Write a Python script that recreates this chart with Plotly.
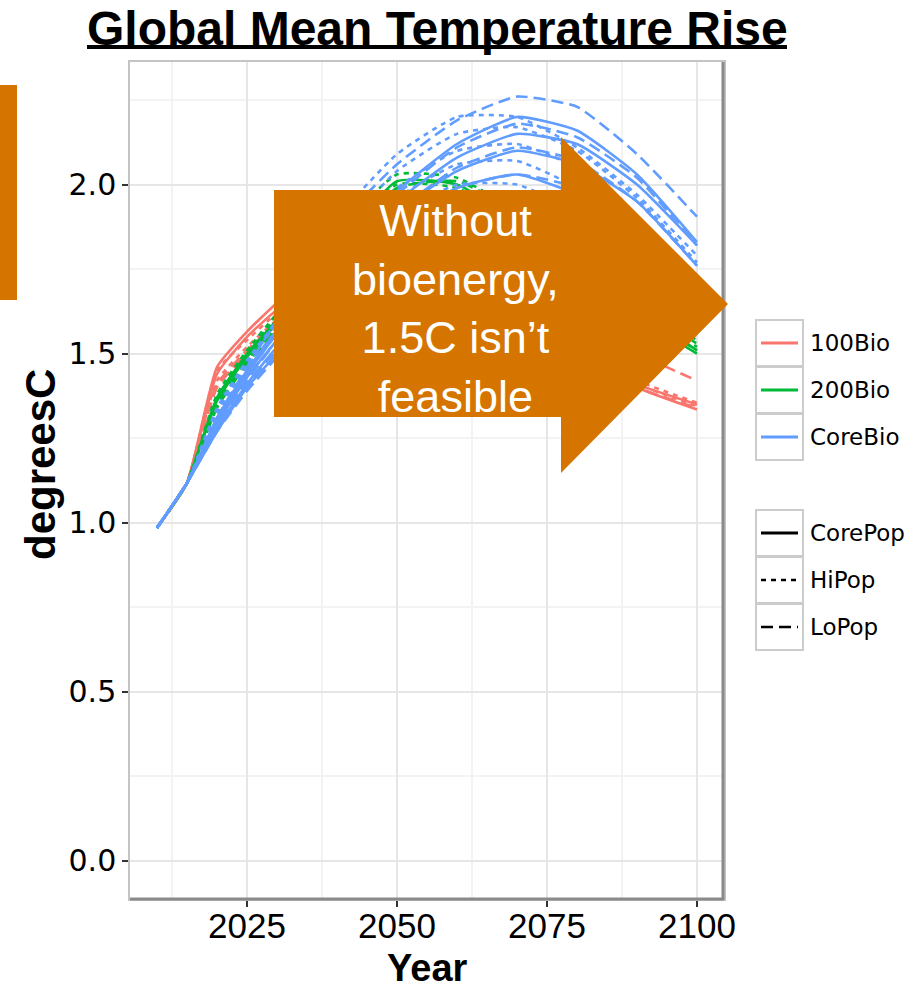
import plotly.graph_objects as go

# ---------------- data ----------------
years = [2010, 2015, 2020, 2025, 2030, 2035, 2040, 2050, 2060, 2070, 2080, 2090, 2100]

red_core_1 = [0.985, 1.118, 1.46, 1.565, 1.65, 1.71, 1.75, 1.77, 1.73, 1.62, 1.51, 1.41, 1.35]
red_core_2 = [0.985, 1.118, 1.44, 1.55, 1.63, 1.69, 1.73, 1.75, 1.71, 1.60, 1.50, 1.40, 1.335]
red_hi_1 = [0.985, 1.118, 1.45, 1.54, 1.62, 1.68, 1.72, 1.75, 1.72, 1.62, 1.51, 1.42, 1.355]
red_hi_2 = [0.985, 1.118, 1.42, 1.52, 1.60, 1.66, 1.70, 1.73, 1.70, 1.61, 1.50, 1.41, 1.345]
red_lo_1 = [0.985, 1.118, 1.41, 1.51, 1.59, 1.66, 1.71, 1.76, 1.74, 1.67, 1.58, 1.50, 1.42]
red_lo_2 = [0.985, 1.118, 1.40, 1.50, 1.58, 1.64, 1.69, 1.72, 1.69, 1.60, 1.50, 1.40, 1.34]

green_core_1 = [0.985, 1.118, 1.37, 1.50, 1.60, 1.71, 1.82, 2.01, 2.00, 1.89, 1.76, 1.63, 1.51]
green_core_2 = [0.985, 1.118, 1.36, 1.49, 1.59, 1.69, 1.79, 1.96, 1.96, 1.87, 1.74, 1.61, 1.50]
green_hi_1 = [0.985, 1.118, 1.38, 1.51, 1.62, 1.74, 1.86, 2.03, 2.02, 1.92, 1.78, 1.64, 1.53]
green_hi_2 = [0.985, 1.118, 1.37, 1.50, 1.61, 1.72, 1.83, 2.00, 1.99, 1.89, 1.76, 1.63, 1.52]
green_lo_1 = [0.985, 1.118, 1.35, 1.48, 1.58, 1.69, 1.80, 1.99, 2.01, 1.92, 1.79, 1.65, 1.54]
green_lo_2 = [0.985, 1.118, 1.34, 1.47, 1.57, 1.67, 1.77, 1.95, 1.97, 1.88, 1.75, 1.62, 1.51]

blue_core_1 = [0.985, 1.118, 1.31, 1.45, 1.57, 1.68, 1.79, 1.98, 2.12, 2.20, 2.16, 2.03, 1.83]
blue_core_2 = [0.985, 1.118, 1.30, 1.44, 1.56, 1.67, 1.77, 1.95, 2.08, 2.15, 2.12, 2.00, 1.82]
blue_core_3 = [0.985, 1.118, 1.29, 1.43, 1.54, 1.65, 1.75, 1.92, 2.04, 2.10, 2.06, 1.95, 1.76]
blue_core_4 = [0.985, 1.118, 1.28, 1.41, 1.52, 1.62, 1.72, 1.88, 1.99, 2.03, 1.97, 1.84, 1.66]
blue_core_5 = [0.985, 1.118, 1.27, 1.40, 1.50, 1.60, 1.69, 1.84, 1.94, 1.96, 1.90, 1.76, 1.58]
blue_hi_1 = [0.985, 1.118, 1.34, 1.48, 1.60, 1.75, 1.90, 2.09, 2.20, 2.20, 2.11, 1.97, 1.79]
blue_hi_2 = [0.985, 1.118, 1.33, 1.47, 1.59, 1.72, 1.85, 2.04, 2.15, 2.17, 2.10, 1.96, 1.77]
blue_hi_3 = [0.985, 1.118, 1.32, 1.46, 1.57, 1.69, 1.80, 1.99, 2.10, 2.12, 2.05, 1.90, 1.70]
blue_hi_4 = [0.985, 1.118, 1.31, 1.45, 1.56, 1.67, 1.78, 1.96, 2.06, 2.07, 1.99, 1.84, 1.64]
blue_hi_5 = [0.985, 1.118, 1.30, 1.43, 1.54, 1.64, 1.74, 1.91, 2.00, 2.00, 1.92, 1.77, 1.58]
blue_lo_1 = [0.985, 1.118, 1.31, 1.46, 1.60, 1.74, 1.88, 2.06, 2.19, 2.26, 2.23, 2.09, 1.905]
blue_lo_2 = [0.985, 1.118, 1.30, 1.44, 1.56, 1.67, 1.78, 1.97, 2.11, 2.18, 2.14, 2.02, 1.82]
blue_lo_3 = [0.985, 1.118, 1.29, 1.42, 1.54, 1.64, 1.74, 1.92, 2.05, 2.11, 2.07, 1.95, 1.76]
blue_lo_4 = [0.985, 1.118, 1.28, 1.41, 1.51, 1.61, 1.71, 1.87, 1.99, 2.03, 1.99, 1.86, 1.67]
blue_lo_5 = [0.985, 1.118, 1.27, 1.39, 1.49, 1.58, 1.67, 1.82, 1.92, 1.95, 1.90, 1.77, 1.56]

bio_names = ["100Bio", "200Bio", "CoreBio"]
pop_names = ["CorePop", "HiPop", "LoPop"]
x_ticks = [2025, 2050, 2075, 2100]
y_ticks = [0.0, 0.5, 1.0, 1.5, 2.0]
y_tick_text = ["0.0", "0.5", "1.0", "1.5", "2.0"]

series = [
    ("100Bio", "CorePop", red_core_1), ("100Bio", "CorePop", red_core_2),
    ("100Bio", "HiPop", red_hi_1), ("100Bio", "HiPop", red_hi_2),
    ("100Bio", "LoPop", red_lo_1), ("100Bio", "LoPop", red_lo_2),
    ("200Bio", "CorePop", green_core_1), ("200Bio", "CorePop", green_core_2),
    ("200Bio", "HiPop", green_hi_1), ("200Bio", "HiPop", green_hi_2),
    ("200Bio", "LoPop", green_lo_1), ("200Bio", "LoPop", green_lo_2),
    ("CoreBio", "CorePop", blue_core_1), ("CoreBio", "CorePop", blue_core_2),
    ("CoreBio", "CorePop", blue_core_3), ("CoreBio", "CorePop", blue_core_4),
    ("CoreBio", "CorePop", blue_core_5),
    ("CoreBio", "HiPop", blue_hi_1), ("CoreBio", "HiPop", blue_hi_2),
    ("CoreBio", "HiPop", blue_hi_3), ("CoreBio", "HiPop", blue_hi_4),
    ("CoreBio", "HiPop", blue_hi_5),
    ("CoreBio", "LoPop", blue_lo_1), ("CoreBio", "LoPop", blue_lo_2),
    ("CoreBio", "LoPop", blue_lo_3), ("CoreBio", "LoPop", blue_lo_4),
    ("CoreBio", "LoPop", blue_lo_5),
]

# ---------------- styles ----------------
colors = {"100Bio": "#F8766D", "200Bio": "#00BA38", "CoreBio": "#619CFF"}
dashes = {"CorePop": "solid", "HiPop": "5px,5px", "LoPop": "12px,6px"}
ORANGE = "#D57500"
W, H = 922, 989
L, R, T, B = 130, 724, 62, 899  # plot area in pixels


def xp(px):
    return (px - L) / (R - L)


def yp(py):
    return (B - py) / (B - T)


fig = go.Figure()
for bio, pop, vals in series:
    fig.add_trace(go.Scatter(
        x=years, y=vals, mode="lines", name=f"{bio} {pop}",
        line=dict(color=colors[bio], dash=dashes[pop], width=2.6,
                  shape="spline", smoothing=0.5),
        showlegend=False, hoverinfo="x+y+name",
    ))

shapes = []
# panel shadow border (right / bottom)
shapes.append(dict(type="line", xref="paper", yref="paper", x0=xp(R - 1), x1=xp(R - 1),
                   y0=yp(T), y1=yp(B + 1), line=dict(color="#8a8a8a", width=3), layer="above"))
shapes.append(dict(type="line", xref="paper", yref="paper", x0=xp(L), x1=xp(R),
                   y0=yp(B), y1=yp(B), line=dict(color="#8a8a8a", width=3), layer="above"))

# orange arrow
pts = [(274, 190), (561, 190), (561, 137), (728, 304), (561, 473), (561, 417), (274, 417)]
path = "M " + " L ".join(f"{xp(a):.5f},{yp(b):.5f}" for a, b in pts) + " Z"
shapes.append(dict(type="path", xref="paper", yref="paper", path=path,
                   fillcolor=ORANGE, line=dict(width=0), layer="above"))
# orange bar at left edge
shapes.append(dict(type="rect", xref="paper", yref="paper", x0=xp(0), x1=xp(17),
                   y0=yp(300), y1=yp(85), fillcolor=ORANGE, line=dict(width=0), layer="above"))
# title underline
shapes.append(dict(type="line", xref="paper", yref="paper", x0=xp(87), x1=xp(787),
                   y0=yp(47), y1=yp(47), line=dict(color="black", width=4)))

annotations = []
annotations.append(dict(xref="paper", yref="paper", x=xp(437), y=yp(29), xanchor="center",
                        yanchor="middle", showarrow=False, borderpad=0,
                        text="<b>Global Mean Temperature Rise</b>",
                        font=dict(family="Liberation Sans, Arial", size=48, color="black")))
annotations.append(dict(xref="paper", yref="paper", x=xp(455), y=yp(308), xanchor="center",
                        yanchor="middle", showarrow=False,
                        text="Without<br>bioenergy,<br>1.5C isn\u2019t<br>feasible",
                        font=dict(family="Liberation Sans, Arial", size=45, color="white")))
# axis titles
annotations.append(dict(xref="paper", yref="paper", x=xp(427), y=yp(968), xanchor="center",
                        yanchor="middle", showarrow=False, text="<b>Year</b>", borderpad=0,
                        font=dict(family="Liberation Sans, Arial", size=38, color="black")))
annotations.append(dict(xref="paper", yref="paper", x=xp(40), y=yp(465), xanchor="center",
                        yanchor="middle", showarrow=False, text="<b>degreesC</b>", textangle=-90,
                        font=dict(family="Liberation Sans, Arial", size=42, color="black")))

# legends (keys drawn as boxes + line samples)
key_x0, key_x1 = 756, 803
leg1_rows = [343, 390, 437]
leg2_rows = [533, 580, 627]
for names, rows, is_color in ((bio_names, leg1_rows, True), (pop_names, leg2_rows, False)):
    for name, cy in zip(names, rows):
        shapes.append(dict(type="rect", xref="paper", yref="paper", x0=xp(key_x0), x1=xp(key_x1),
                           y0=yp(cy + 23), y1=yp(cy - 23), line=dict(color="#cccccc", width=2),
                           fillcolor="white", layer="above"))
        if is_color:
            ln = dict(color=colors[name], width=3)
        else:
            ln = dict(color="black", width=3 if name == "CorePop" else 2.5, dash=dashes[name])
        shapes.append(dict(type="line", xref="paper", yref="paper", x0=xp(761), x1=xp(798),
                           y0=yp(cy), y1=yp(cy), line=ln, layer="above"))
        annotations.append(dict(xref="paper", yref="paper", x=xp(808), y=yp(cy), xanchor="left",
                                yanchor="middle", showarrow=False, text=name,
                                font=dict(family="DejaVu Sans", size=23, color="black")))

fig.update_layout(
    width=W, height=H,
    margin=dict(l=L, r=W - R, t=T, b=H - B, pad=0, autoexpand=False),
    paper_bgcolor="white", plot_bgcolor="white",
    shapes=shapes, annotations=annotations,
    showlegend=False,
)
fig.update_xaxes(
    range=[2005.5, 2104.5], tickvals=x_ticks, ticktext=[str(v) for v in x_ticks],
    ticks="outside", ticklen=6, tickwidth=2, tickcolor="#333333", automargin=False,
    ticklabelstandoff=-11,
    tickfont=dict(family="Liberation Sans, Arial", size=35, color="black"),
    showgrid=True, gridcolor="#e6e6e6", gridwidth=1.5,
    minor=dict(tick0=2012.5, dtick=12.5, showgrid=True, gridcolor="#f3f3f3", gridwidth=1.5),
    showline=True, mirror=True, linecolor="#c4c4c4", linewidth=1.5, zeroline=False,
)
fig.update_yaxes(
    range=[-0.1125, 2.3625], tickvals=y_ticks, ticktext=y_tick_text,
    ticks="outside", ticklen=6, tickwidth=2, tickcolor="#333333", automargin=False,
    tickfont=dict(family="DejaVu Sans", size=30, color="black"),
    showgrid=True, gridcolor="#e6e6e6", gridwidth=1.5,
    minor=dict(tick0=0.25, dtick=0.25, showgrid=True, gridcolor="#f3f3f3", gridwidth=1.5),
    showline=True, mirror=True, linecolor="#c4c4c4", linewidth=1.5, zeroline=False,
)

fig.write_html("out.html")
